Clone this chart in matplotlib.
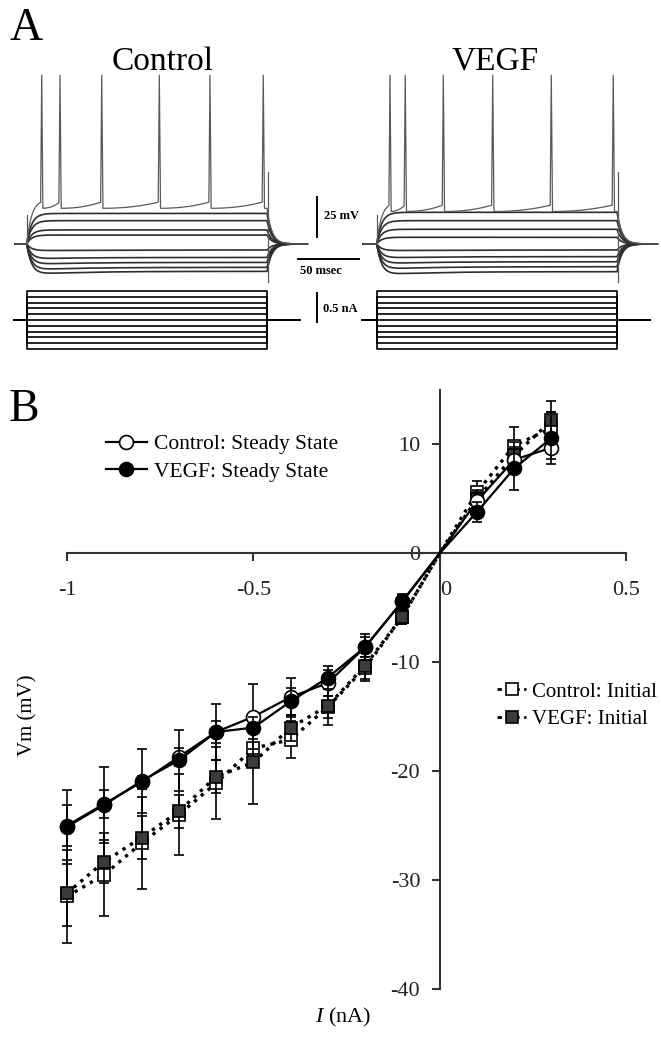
import numpy as np
import matplotlib
matplotlib.use("Agg")
import matplotlib.pyplot as plt
from matplotlib.lines import Line2D
from matplotlib.transforms import ScaledTranslation

plt.rcParams['font.family'] = ['Liberation Serif', 'DejaVu Serif']
plt.rcParams['mathtext.fontset'] = 'custom'
plt.rcParams['mathtext.rm'] = 'Liberation Serif'
plt.rcParams['mathtext.it'] = 'Liberation Serif:italic'
plt.rcParams['axes.unicode_minus'] = False

# ---------------- Panel A data (mV relative to rest, ms) ----------------
step_dur_ms = 197.0
ctrl_levels = [19.1, 14.6, 8.8, 5.6, -3.8, -8.4, -11.5, -14.6, -17.1]
ctrl_spikes = [12.3, 27.3, 61.5, 108.7, 150.2, 193.9]
ctrl_fire_trough, ctrl_fire_thr = 22.3, 26.3
vegf_levels = [19.8, 14.6, 9.2, 4.2, -3.8, -7.9, -11.1, -14.2, -17.3]
vegf_spikes = [10.9, 23.4, 54.6, 95.1, 143.1, 193.9]
vegf_fire_trough, vegf_fire_thr = 20.3, 24.4
spike_peak = 105.5
current_levels = [-0.5, -0.4, -0.3, -0.2, -0.1, 0.0, 0.1, 0.2, 0.3, 0.4, 0.5]

# ---------------- Panel B data ----------------
I_nA = [-1.0, -0.9, -0.8, -0.7, -0.6, -0.5, -0.4, -0.3, -0.2, -0.1, 0.0, 0.1, 0.2, 0.3]
ctrl_ss = [-25.0, -23.0, -21.0, -18.7, -16.4, -15.0, -13.2, -11.9, -8.6, -4.4, 0.0, 4.8, 8.6, 9.7]
ctrl_ss_err = [1.9, 1.3, 0.6, 0.8, 1.0, 3.0, 1.8, 1.2, 0.9, 0.6, 0.0, 0.8, 1.0, 1.0]
vegf_ss = [-25.1, -23.1, -20.9, -19.0, -16.4, -16.0, -13.6, -11.4, -8.6, -4.4, 0.0, 3.8, 7.8, 10.6]
vegf_ss_err = [3.4, 3.5, 2.9, 2.8, 2.6, 1.0, 1.2, 1.1, 1.2, 0.7, 0.0, 0.9, 2.0, 2.4]
ctrl_init = [-31.5, -29.5, -26.6, -24.0, -21.1, -17.9, -17.1, -14.1, -10.5, -5.8, 0.0, 5.6, 9.9, 11.5]
ctrl_init_err = [4.3, 3.8, 4.2, 3.7, 3.3, 1.5, 1.7, 1.0, 1.0, 0.7, 0.0, 1.0, 1.7, 1.5]
vegf_init = [-31.2, -28.3, -26.1, -23.7, -20.5, -19.2, -16.0, -14.0, -10.3, -5.8, 0.0, 5.0, 9.0, 12.2]
vegf_init_err = [3.0, 2.0, 2.0, 1.5, 1.5, 3.8, 1.2, 1.8, 1.4, 0.7, 0.0, 0.8, 1.2, 1.8]
x_ticks = [-1, -0.5, 0, 0.5]
x_ticklabels = ['-1', '-0.5', '0', '0.5']
y_ticks = [-40, -30, -20, -10, 0, 10]

W, H = 661, 1037
fig = plt.figure(figsize=(W / 100, H / 100), dpi=100)


def fx(px):
    return px / W


def fy(py):
    return 1 - py / H


# ---------------- Panel A ----------------
PX_PER_MS = 1.22
PX_PER_MV = 1.6
T0_PX = 26.7
VEGF_SHIFT = 350 / PX_PER_MS
axV = fig.add_axes([0, fy(285), 1, 285 / H])
axV.set_xlim(-T0_PX / PX_PER_MS, (W - T0_PX) / PX_PER_MS)
axV.set_ylim(-(285 - 244) / PX_PER_MV, 244 / PX_PER_MV)
axV.axis('off')
axI = fig.add_axes([0, fy(360), 1, 75 / H])
axI.set_xlim(-T0_PX / PX_PER_MS, (W - T0_PX) / PX_PER_MS)
axI.set_ylim(-40 / 58.0, 35 / 58.0)
axI.axis('off')

t = np.arange(-11.0, 230.0, 0.05)
TAU = 4.0
TR_COL = '#2e2e2e'
SP_COL = '#5a5a5a'


def sub_trace(L):
    v = np.zeros_like(t)
    on = (t >= 0) & (t <= step_dur_ms)
    sag = 0.12 if L < 0 else 0.0
    v[on] = L * (1 - np.exp(-t[on] / TAU)) * (1 + sag * np.exp(-t[on] / 40.0))
    vend = L * (1 - np.exp(-step_dur_ms / TAU)) * (1 + sag * np.exp(-step_dur_ms / 40.0))
    off = t > step_dur_ms
    v[off] = vend * np.exp(-(t[off] - step_dur_ms) / TAU)
    return v


def fire_trace(spikes, trough, thr):
    v = np.zeros_like(t)
    s0 = spikes[0]
    m = (t >= 0) & (t < s0)
    v[m] = thr * (1 - np.exp(-t[m] / TAU)) / (1 - np.exp(-s0 / TAU))
    for a, b in zip(spikes[:-1], spikes[1:]):
        m = (t >= a) & (t < b)
        frac = (t[m] - a) / (b - a)
        v[m] = trough + (thr - trough) * frac ** 2.2
    m = (t >= spikes[-1]) & (t <= step_dur_ms)
    v[m] = trough
    off = t > step_dur_ms
    v[off] = trough * np.exp(-(t[off] - step_dur_ms) / TAU)
    for s in spikes:
        v = np.maximum(v, spike_peak - np.abs(t - s) * 90.0)
    return v


for shift, levels, spikes, trough, thr, tstart in [
        (0.0, ctrl_levels, ctrl_spikes, ctrl_fire_trough, ctrl_fire_thr, -9.6),
        (VEGF_SHIFT, vegf_levels, vegf_spikes, vegf_fire_trough, vegf_fire_thr, -10.9)]:
    mm = t >= tstart
    for L in levels:
        axV.plot(t[mm] + shift, sub_trace(L)[mm], color=TR_COL, lw=1.2)
    axV.plot(t[mm] + shift, fire_trace(spikes, trough, thr)[mm], color=SP_COL, lw=0.9)
    # stimulus artefacts
    axV.plot([shift, shift], [0, 18], color=SP_COL, lw=0.9)
    axV.plot([shift + step_dur_ms + 1, shift + step_dur_ms + 1], [-24, 45], color=SP_COL, lw=0.9)
    # current steps
    for I in current_levels:
        axI.plot(np.array([tstart - 1, 0, 0, step_dur_ms, step_dur_ms, 224]) + shift,
                 [0, 0, I, I, 0, 0], color='black', lw=1.2)

# scale bars
sb_t = (316.7 - T0_PX) / PX_PER_MS
axV.plot([sb_t, sb_t], [(244 - 237) / PX_PER_MV, (244 - 237) / PX_PER_MV + 25], color='black', lw=1.4)
tb0 = (298 - T0_PX) / PX_PER_MS
axV.plot([tb0, tb0 + 50], [-(259 - 244) / PX_PER_MV] * 2, color='black', lw=1.4)
axI.plot([sb_t, sb_t], [0.47, -0.03], color='black', lw=1.4)

fig.text(fx(324), fy(216), '25 mV', fontsize=9, fontweight='bold', ha='left', va='center')
fig.text(fx(300), fy(271), '50 msec', fontsize=9, fontweight='bold', ha='left', va='center')
fig.text(fx(323), fy(309), '0.5 nA', fontsize=9, fontweight='bold', ha='left', va='center')
fig.text(fx(163), fy(62), 'Control', fontsize=24, ha='center', va='center')
fig.text(fx(495), fy(61), 'VEGF', fontsize=24, ha='center', va='center')
fig.text(fx(9), fy(29), 'A', fontsize=33, ha='left', va='center')
fig.text(fx(9), fy(410), 'B', fontsize=33, ha='left', va='center')

# ---------------- Panel B ----------------
ax = fig.add_axes([fx(67), fy(989), 559 / W, 599 / H])
ax.set_xlim(-1, 0.5)
ax.set_ylim(-40, 15)
for sp in ['top', 'right']:
    ax.spines[sp].set_visible(False)
ax.spines['left'].set_position(('data', 0))
ax.spines['bottom'].set_position(('data', 0))
for sp in ['left', 'bottom']:
    ax.spines[sp].set_color('#333333')
    ax.spines[sp].set_linewidth(1.5)
ax.set_xticks(x_ticks)
ax.set_xticklabels(x_ticklabels)
ax.set_yticks(y_ticks)
ax.tick_params(axis='x', direction='out', length=6, width=1.5, color='#333333', pad=14,
               labelsize=16, labelcolor='#222222')
ax.tick_params(axis='y', direction='out', length=6, width=1.5, color='#333333', pad=8,
               labelsize=16, labelcolor='#222222')
zero_lab = ax.xaxis.get_major_ticks()[2].label1
zero_lab.set_transform(zero_lab.get_transform() + ScaledTranslation(0.06, 0, fig.dpi_scale_trans))
ax.patch.set_alpha(0)

I_arr = np.array(I_nA)
mask = I_arr != 0.0

series = [
    (ctrl_init, ctrl_init_err, 's', 'white', ':', 2.4, 9),
    (vegf_init, vegf_init_err, 's', '#3a3a3a', ':', 2.4, 9),
    (ctrl_ss, ctrl_ss_err, 'o', 'white', '-', 1.6, 10),
    (vegf_ss, vegf_ss_err, 'o', 'black', '-', 1.6, 10),
]
z = 3
for vals, errs, mk, fc, ls, lw, ms in series:
    vals = np.array(vals)
    errs = np.array(errs)
    ax.errorbar(I_arr[mask], vals[mask], yerr=errs[mask], fmt='none', ecolor='black',
                elinewidth=1.2, capsize=3.5, capthick=1.2, zorder=z, clip_on=False)
    ax.plot(I_arr, vals, color='black', ls=ls, lw=lw, marker=mk, ms=ms, mfc=fc, mec='black',
            mew=1.2, markevery=list(mask), zorder=z + 1, clip_on=False)
    z += 2

h1 = [Line2D([], [], color='black', ls='-', lw=1.6, marker='o', ms=10, mfc='white', mec='black', mew=1.2),
      Line2D([], [], color='black', ls='-', lw=1.6, marker='o', ms=10, mfc='black', mec='black', mew=1.2)]
leg1 = ax.legend(h1, ['Control: Steady State', 'VEGF: Steady State'], loc='upper left',
                 bbox_to_anchor=(fx(106), fy(434)), bbox_transform=fig.transFigure,
                 frameon=False, fontsize=15.5, handlelength=1.9, handletextpad=0.35,
                 labelspacing=0.35, borderpad=0, borderaxespad=0)
ax.add_artist(leg1)
h2 = [Line2D([], [], color='black', ls=(0, (1.6, 1.6)), lw=2.0, marker='s', ms=9, mfc='white', mec='black', mew=1.2),
      Line2D([], [], color='black', ls=(0, (1.6, 1.6)), lw=2.0, marker='s', ms=9, mfc='#3a3a3a', mec='black', mew=1.2)]
ax.legend(h2, ['Control: Initial', 'VEGF: Initial'], loc='upper left',
          bbox_to_anchor=(fx(497), fy(682)), bbox_transform=fig.transFigure,
          frameon=False, fontsize=15, handlelength=1.4, handletextpad=0.3,
          labelspacing=0.4, borderpad=0, borderaxespad=0)

fig.text(fx(28), fy(715), 'Vm (mV)', fontsize=15, rotation=90, ha='center', va='center')
fig.text(fx(343), fy(1017), r'$I$ (nA)', fontsize=16, ha='center', va='center')

fig.savefig('out.png', dpi=100)
